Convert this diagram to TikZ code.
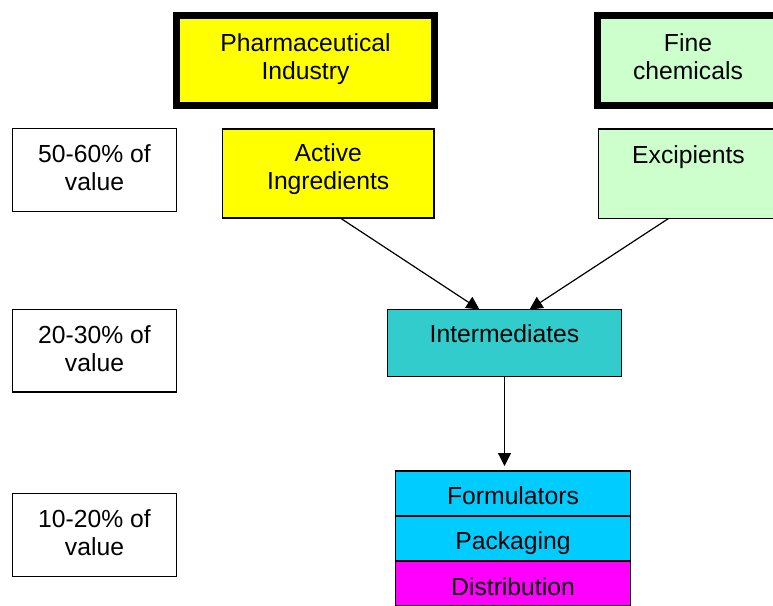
\documentclass[tikz,border=0pt]{standalone}
\usepackage{fontspec}
\setmainfont{Liberation Sans}
\usepackage{tikz}
\usetikzlibrary{positioning,arrows.meta,calc}
\usepackage{xcolor}
\definecolor{pharmayellow}{HTML}{FFFF00}
\definecolor{finegreen}{HTML}{CCFFCC}
\definecolor{interteal}{HTML}{33CCCC}
\definecolor{formcyan}{HTML}{00CCFF}
\definecolor{distmagenta}{HTML}{FF00FF}
\tikzset{
  box/.style={draw,inner sep=0pt,outer sep=0pt,line width=1.2pt,align=center,anchor=north},
  heavybox/.style={box,line width=7pt},
  sharebox/.style={box,minimum width=163.5pt,text height=62pt,text depth=20.5pt},
  stackbox/.style={box,fill=formcyan,minimum width=235pt,text height=33pt,text depth=12pt}
}

\begin{document}
\begin{tikzpicture}[x=1pt,y=-1pt,>={Triangle[length=13pt,width=13pt]},font=\fontsize{24.7}{28}\selectfont]
\useasboundingbox (0,0) rectangle (773,605);
\clip (0,0) rectangle (773,605);
\node[heavybox,fill=pharmayellow,minimum width=258pt,text height=64pt,text depth=26pt] (pharma) at (305.5,15.5) {Pharmaceutical\\Industry};
\node[heavybox,fill=finegreen,minimum width=181pt,text height=64pt,text depth=26pt] (fine) at (688,15.5) {Fine\\chemicals};
\node[box,fill=pharmayellow,minimum width=211.5pt,text height=60.5pt,text depth=28.5pt] (act) at (328.25,129) {Active\\Ingredients};
\node[box,fill=finegreen,minimum width=180pt,text height=34pt,text depth=55.5pt] (exc) at (688.5,129) {Excipients};
\node[sharebox] (share1) at (94.5,128.8) {50-60\% of\\value};
\node[sharebox] (share2) at (94.5,309.5) {20-30\% of\\value};
\node[sharebox] (share3) at (94.5,493.8) {10-20\% of\\value};
\node[box,fill=interteal,minimum width=234pt,text height=33pt,text depth=34pt] (inter) at (504.5,309.5) {Intermediates};
\node[stackbox] (form) at (513,471) {Formulators};
\node[stackbox,below=0pt of form] (pack) {Packaging};
\node[stackbox,fill=distmagenta,text height=34pt,text depth=11pt,below=0pt of pack] (dist) {Distribution};
\draw[->,line width=1.2pt] ($(act.south)+(12,0)$) -- ($(inter.north)+(-25,0)$);
\draw[->,line width=1.2pt] ($(exc.south)+(-20,0)$) -- ($(inter.north)+(25,0)$);
\draw[->,line width=1.2pt,shorten >=5pt] (inter.south) -- (inter.south |- form.north);
\end{tikzpicture}
\end{document}
